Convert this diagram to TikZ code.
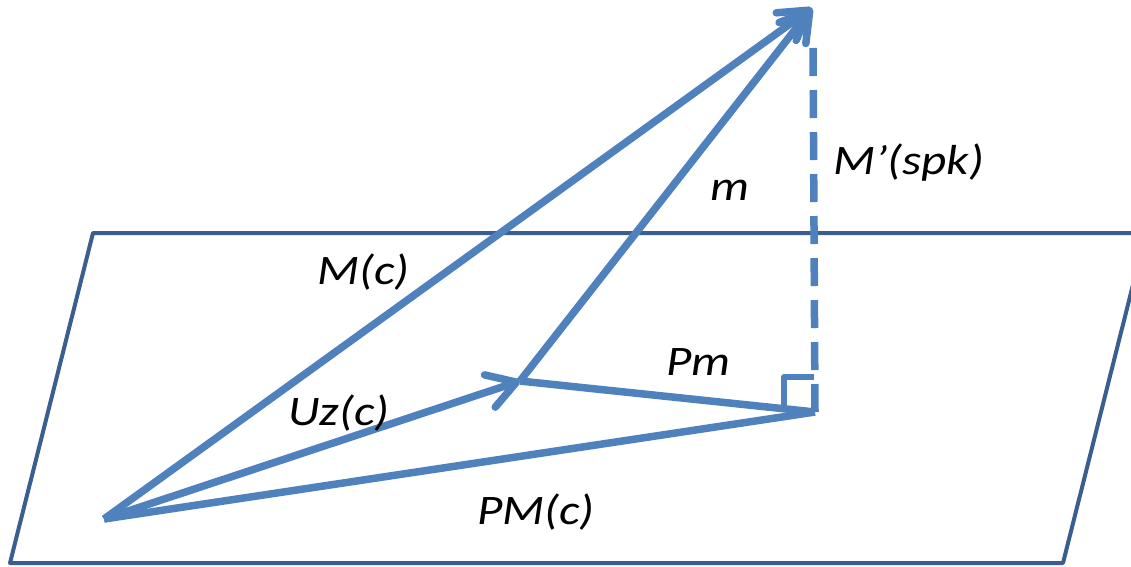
\documentclass[tikz,border=0pt]{standalone}
\usepackage{fontspec}
\setmainfont{Carlito}
\usetikzlibrary{arrows.meta}
\definecolor{vec}{HTML}{4F81BD}
\definecolor{plane}{HTML}{3A5F8F}
\begin{document}
\begin{tikzpicture}[x=1pt,y=-1pt,
  vecline/.style={draw=vec, line width=7.5pt},
  vecarrow/.style={vecline, -{Straight Barb[length=28pt,width=34pt,round]}},
  planeline/.style={draw=plane, line width=4pt, line join=round},
  lbl/.style={font=\fontsize{42}{44}\selectfont\itshape, inner sep=0pt, anchor=base west, xscale=1.17}]
\useasboundingbox (0,0) rectangle (1131,566);
\clip (0,0) rectangle (1131,566);
% plane
\coordinate (P1) at (93,233);
\coordinate (P2) at (1146,233);
\coordinate (P3) at (1063,563);
\coordinate (P4) at (10,563);
\draw[planeline] (P1) -- (P2) -- (P3) -- (P4) -- cycle;
% points
\coordinate (O) at (104,519);
\coordinate (T) at (812,8);
\coordinate (U) at (520,381);
\coordinate (F) at (815,412);
\coordinate (D) at (813,45);
% lines
\draw[vecline] (O) -- (F);
\draw[vecline] (U) -- (F);
\draw[vecline, dash pattern=on 28pt off 14pt] (F) -- (D);
\draw[vec, line width=5.5pt, line join=round] (F) ++(-31,-3) -- ++(0,-32) -- ++(30,0);
\draw[vecarrow] (O) -- (U);
\draw[vecarrow] (U) -- (T);
\draw[vecarrow] (O) -- (T);
% labels
\node[lbl] (lM) at (317,284) {M(c)};
\node[lbl] (lMs) at (833,174) {M’(spk)};
\node[lbl] (lm) at (710,200) {m};
\node[lbl] (lU) at (288,425) {Uz(c)};
\node[lbl] (lPm) at (666,375) {Pm};
\node[lbl] (lPM) at (477,524) {PM(c)};
\end{tikzpicture}
\end{document}
